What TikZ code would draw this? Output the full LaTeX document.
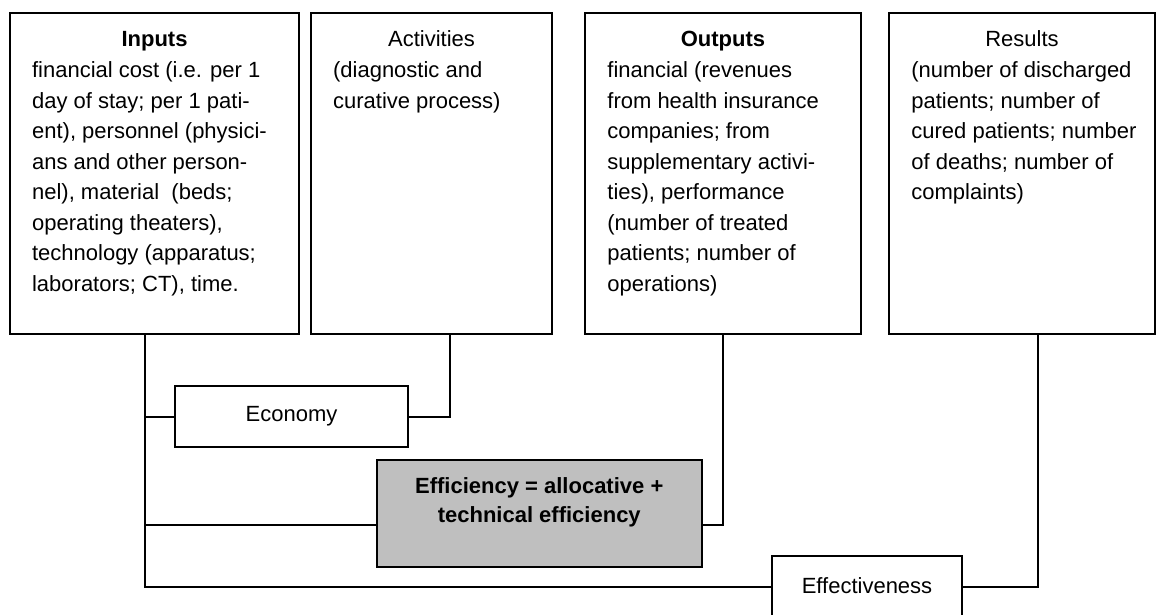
\documentclass[tikz,border=0pt]{standalone}
\usepackage{fontspec}
\setmainfont{Liberation Sans}

\begin{document}
\begin{tikzpicture}[x=0.5pt,y=-0.5pt,font=\fontsize{11}{15.25}\selectfont]
\tikzstyle{big box}=[draw,line width=1pt,anchor=north west,inner sep=0,outer sep=0,minimum height=160.5pt]
\tikzstyle{small box}=[draw,line width=1pt,anchor=north west,inner sep=0,outer sep=0]
\tikzstyle{box title}=[anchor=base,inner sep=0]
\tikzstyle{box text}=[anchor=north west,align=left,inner sep=0]
\tikzstyle{link}=[line width=1pt]
\useasboundingbox (0,0) rectangle (1156,615);
% top row
\node[big box,minimum width=144.5pt](inp) at (10,13){};
\node[big box,minimum width=120.5pt](act) at (311,13){};
\node[big box,minimum width=138pt](outp) at (585,13){};
\node[big box,minimum width=133pt](res) at (889,13){};
\node[box title](inp title) at ([shift={(0,34)}]inp.north){\textbf{Inputs}};
\node[box title](act title) at ([shift={(0,34)}]act.north){Activities};
\node[box title](outp title) at ([shift={(0,34)}]outp.north){\textbf{Outputs}};
\node[box title](res title) at ([shift={(0,34)}]res.north){Results};
\node[box text](inp text) at ([shift={(21.7,43.15)}]inp.north west){\strut financial cost (i.e. per 1\\day of stay; per 1 pati-\\ent), personnel (physici-\\ans and other person-\\nel), material~ (beds;\\operating theaters),\\technology (apparatus;\\laborators; CT), time.};
\node[box text](act text) at ([shift={(21.7,43.15)}]act.north west){\strut (diagnostic and\\curative process)};
\node[box text](outp text) at ([shift={(22,43.15)}]outp.north west){\strut financial (revenues\\from health insurance\\companies; from\\supplementary activi-\\ties), performance\\(number of treated\\patients; number of\\operations)};
\node[box text](res text) at ([shift={(22,43.15)}]res.north west){\strut (number of discharged\\patients; number of\\cured patients; number\\of deaths; number of\\complaints)};
% lower boxes
\node[small box,minimum width=116.5pt,minimum height=30.5pt](eco) at (175,386){};
\node[small box,fill=black!25,minimum width=162.25pt,minimum height=53.5pt](eff) at (377,459.5){};
\node[small box,minimum width=95pt,minimum height=31pt](efv) at (772,556){};
\node[box title](eco title) at ([shift={(0,35)}]eco.north){Economy};
\node[anchor=north,align=center,inner sep=0,font=\fontsize{11}{14.35}\selectfont\bfseries](eff title) at ([shift={(0,13.4)}]eff.north){\strut Efficiency = allocative +\\technical efficiency};
\node[box title](efv title) at ([shift={(0,37)}]efv.north){Effectiveness};
% links
\draw[link] ([shift={(-9.5,0)}]inp.south) |- (efv.west);
\draw[link] ([shift={(-9.5,0)}]inp.south) |- (eco.west);
\draw[link] ([shift={(-9.5,0)}]inp.south) |- ([shift={(0,12)}]eff.west);
\draw[link] ([shift={(18,0)}]act.south) |- (eco.east);
\draw[link] (outp.south) |- ([shift={(0,12)}]eff.east);
\draw[link] ([shift={(16,0)}]res.south) |- (efv.east);
\end{tikzpicture}
\end{document}
